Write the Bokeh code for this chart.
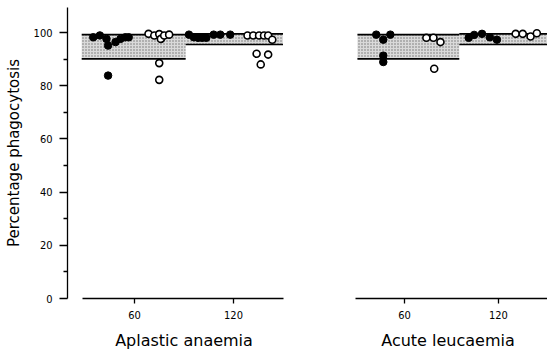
from bokeh.plotting import figure
from bokeh.layouts import row
from bokeh.models import FixedTicker, Range1d
from bokeh.embed import file_html
from bokeh.resources import INLINE

# Normal range bands (control values), per age group
band_top = [99.2, 99.5]
band_bottom = [90.1, 95.5]
left_band_edges = [28, 91, 150]
right_band_edges = [30, 95, 151]

# Aplastic anaemia
aa_filled_x = [35, 39, 43, 44, 48.5, 51.5, 54.5, 56.5, 44, 93, 96, 98.5, 101, 103.5, 108, 112, 118]
aa_filled_y = [98.2, 98.9, 97.6, 95.1, 96.4, 97.6, 98.2, 98.2, 83.8, 99.2, 98.2, 98.0, 98.0, 98.0, 99.2, 99.2, 99.2]
aa_open_x = [68.5, 72, 75, 76, 78, 81, 75, 75, 128.5, 132, 135.5, 138.5, 141, 143.5, 134, 141, 136.5]
aa_open_y = [99.5, 98.9, 99.4, 97.6, 98.9, 99.2, 88.5, 82.2, 98.9, 98.9, 98.9, 98.9, 98.9, 97.3, 92.0, 91.7, 88.0]

# Acute leucaemia
al_filled_x = [42, 46.5, 51, 46.5, 46.5, 101, 104.5, 109.5, 114.5, 119]
al_filled_y = [99.2, 97.3, 99.2, 91.3, 88.9, 98.0, 99.1, 99.5, 98.2, 97.3]
al_open_x = [74, 78.5, 83, 79, 131, 135.5, 140.5, 144.5]
al_open_y = [98.0, 98.0, 96.4, 86.4, 99.5, 99.5, 98.5, 99.7]

x_ticks = [60, 120]
y_ticks = [0, 20, 40, 60, 80, 100]
y_minor = [10, 30, 50, 70, 90]

FONT = "DejaVu Sans"
TICK_FONT = "'Liberation Sans Narrow', 'DejaVu Sans Condensed', 'DejaVu Sans'"


def make_panel(width, min_left, xr, bounds, edges, fx, fy, ox, oy, title):
    p = figure(width=width, height=352, output_backend="svg", toolbar_location=None,
               x_range=Range1d(*xr), y_range=Range1d(0, 109.4),
               min_border_left=min_left, min_border_right=0, min_border_top=7,
               min_border_bottom=54)
    p.outline_line_color = None
    p.grid.visible = False
    p.background_fill_color = "white"
    p.border_fill_color = "white"

    left = edges[:-1]
    right = edges[1:]
    p.quad(left=left, right=right, bottom=band_bottom, top=band_top,
           fill_color="#dadada", line_color=None,
           hatch_pattern="dot", hatch_color="#707070", hatch_scale=3, hatch_weight=1)
    p.segment(x0=left, x1=right, y0=band_top, y1=band_top, line_color="black", line_width=1.6)
    p.segment(x0=left, x1=right, y0=band_bottom, y1=band_bottom, line_color="black", line_width=1.6)

    p.scatter(fx, fy, marker="circle", size=7.5, fill_color="black", line_color="black")
    p.scatter(ox, oy, marker="circle", size=7, fill_color="white", line_color="black", line_width=1.6)

    xa = p.xaxis[0]
    xa.ticker = FixedTicker(ticks=x_ticks)
    xa.bounds = bounds
    xa.axis_line_width = 1.3
    xa.axis_line_color = "black"
    xa.major_tick_out = 5
    xa.major_tick_in = 0
    xa.major_tick_line_width = 1.3
    xa.major_tick_line_color = "black"
    xa.minor_tick_line_color = None
    xa.major_label_text_font = TICK_FONT
    xa.major_label_text_font_size = "11px"
    xa.major_label_text_color = "black"
    xa.major_label_standoff = 7
    xa.axis_label = title
    xa.axis_label_text_font = FONT
    xa.axis_label_text_font_style = "normal"
    xa.axis_label_text_font_size = "16px"
    xa.axis_label_text_color = "black"
    xa.axis_label_standoff = 9
    return p


p1 = make_panel(300, 67, (19.4, 160.6), (28.5, 150.3), left_band_edges,
                aa_filled_x, aa_filled_y, aa_open_x, aa_open_y, "Aplastic anaemia")
ya = p1.yaxis[0]
ya.ticker = FixedTicker(ticks=y_ticks, minor_ticks=y_minor)
ya.axis_line_width = 1.3
ya.axis_line_color = "black"
ya.major_tick_out = 8
ya.major_tick_in = 0
ya.minor_tick_out = 4
ya.minor_tick_in = 0
ya.major_tick_line_width = 1.3
ya.minor_tick_line_width = 1.3
ya.major_tick_line_color = "black"
ya.minor_tick_line_color = "black"
ya.major_label_text_font = TICK_FONT
ya.major_label_text_font_size = "11px"
ya.major_label_text_color = "black"
ya.major_label_standoff = 7
ya.axis_label = "Percentage phagocytosis"
ya.axis_label_text_font = FONT
ya.axis_label_text_font_style = "normal"
ya.axis_label_text_font_size = "15px"
ya.axis_label_text_color = "black"
ya.axis_label_standoff = 8

p2 = make_panel(247, 48, (24.3, 151.3), (28.7, 151.3), right_band_edges,
                al_filled_x, al_filled_y, al_open_x, al_open_y, "Acute leucaemia")
p2.yaxis.visible = False

layout = row(p1, p2)
open("out.html", "w").write(file_html(layout, INLINE))
